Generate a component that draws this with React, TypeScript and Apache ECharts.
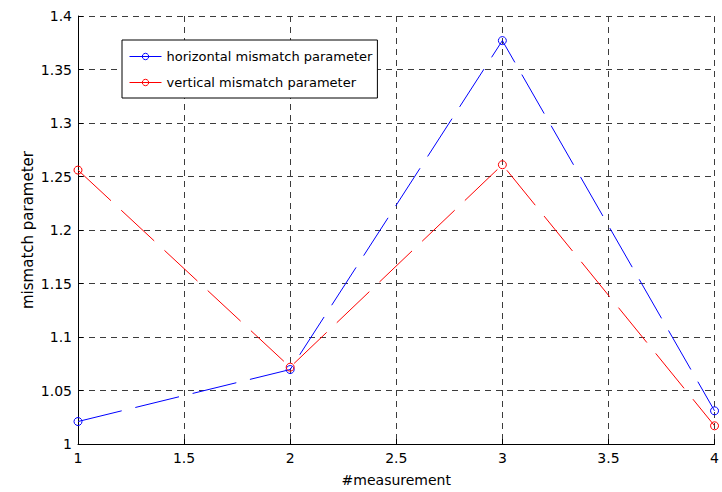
import React, { useEffect, useRef } from "react";
import * as echarts from "echarts";

const measurements = [1, 2, 3, 4];
const horizontalValues = [1.021, 1.0696, 1.377, 1.031];
const verticalValues = [1.256, 1.0718, 1.261, 1.017];
const seriesNames = ["horizontal mismatch parameter", "vertical mismatch parameter"];
const xAxisName = "#measurement";
const yAxisName = "mismatch parameter";

const FONT = "'DejaVu Sans', sans-serif";

export default function App() {
  const ref = useRef<HTMLDivElement>(null);
  useEffect(() => {
    if (!ref.current) return;
    const chart = echarts.init(ref.current, null, { renderer: "svg" });
    const gridLine = { show: true, lineStyle: { color: "#3c3c3c", type: [6, 5], width: 1 } };
    chart.setOption({
      animation: false,
      backgroundColor: "#ffffff",
      textStyle: { fontFamily: FONT },
      grid: { left: 78, right: 4, top: 16, bottom: 39, containLabel: false },
      legend: {
        show: true,
        orient: "vertical",
        left: 122,
        top: 40,
        data: seriesNames,
        itemWidth: 32,
        itemHeight: 8,
        itemGap: 13,
        padding: [10, 5, 9, 7],
        borderColor: "#000",
        borderWidth: 1,
        backgroundColor: "#fff",
        lineStyle: { width: 1 },
        itemStyle: { borderWidth: 1 },
        textStyle: { fontFamily: FONT, fontSize: 13, color: "#000" },
      },
      xAxis: {
        type: "value",
        min: 1,
        max: 4,
        interval: 0.5,
        name: xAxisName,
        nameLocation: "middle",
        nameGap: 29,
        nameMoveOverlap: false,
        nameTextStyle: { fontFamily: FONT, fontSize: 14, color: "#000" },
        axisLine: { show: true, onZero: false, lineStyle: { color: "#000", width: 1 } },
        axisTick: { show: true, inside: true, length: 5, lineStyle: { color: "#000" } },
        axisLabel: { fontFamily: FONT, fontSize: 14, color: "#000", margin: 7 },
        splitLine: gridLine,
      },
      yAxis: {
        type: "value",
        min: 1,
        max: 1.4,
        interval: 0.05,
        name: yAxisName,
        nameLocation: "middle",
        nameGap: 43,
        nameMoveOverlap: false,
        nameRotate: 90,
        nameTextStyle: { fontFamily: FONT, fontSize: 15, color: "#000" },
        axisLine: { show: true, onZero: false, lineStyle: { color: "#000", width: 1 } },
        axisTick: { show: true, inside: true, length: 5, lineStyle: { color: "#000" } },
        axisLabel: {
          fontFamily: FONT,
          fontSize: 14,
          color: "#000",
          margin: 6,
          formatter: (v: number) => String(Math.round(v * 100) / 100),
        },
        splitLine: gridLine,
      },
      series: [
        {
          name: seriesNames[0],
          type: "line",
          data: measurements.map((m, i) => [m, horizontalValues[i]]),
          symbol: "circle",
          symbolSize: 8,
          clip: false,
          color: "#0000ff",
          itemStyle: { color: "rgba(255,255,255,0)", borderColor: "#0000ff", borderWidth: 1 },
          lineStyle: { color: "#0000ff", width: 1, type: [45, 14] },
        },
        {
          name: seriesNames[1],
          type: "line",
          data: measurements.map((m, i) => [m, verticalValues[i]]),
          symbol: "circle",
          symbolSize: 8,
          clip: false,
          color: "#ff0000",
          itemStyle: { color: "rgba(255,255,255,0)", borderColor: "#ff0000", borderWidth: 1 },
          lineStyle: { color: "#ff0000", width: 1, type: [45, 14] },
        },
      ],
    });
    return () => chart.dispose();
  }, []);
  return (
    <div
      ref={ref}
      style={{ position: "fixed", left: 0, top: 0, width: 722, height: 492, background: "#fff" }}
    />
  );
}
